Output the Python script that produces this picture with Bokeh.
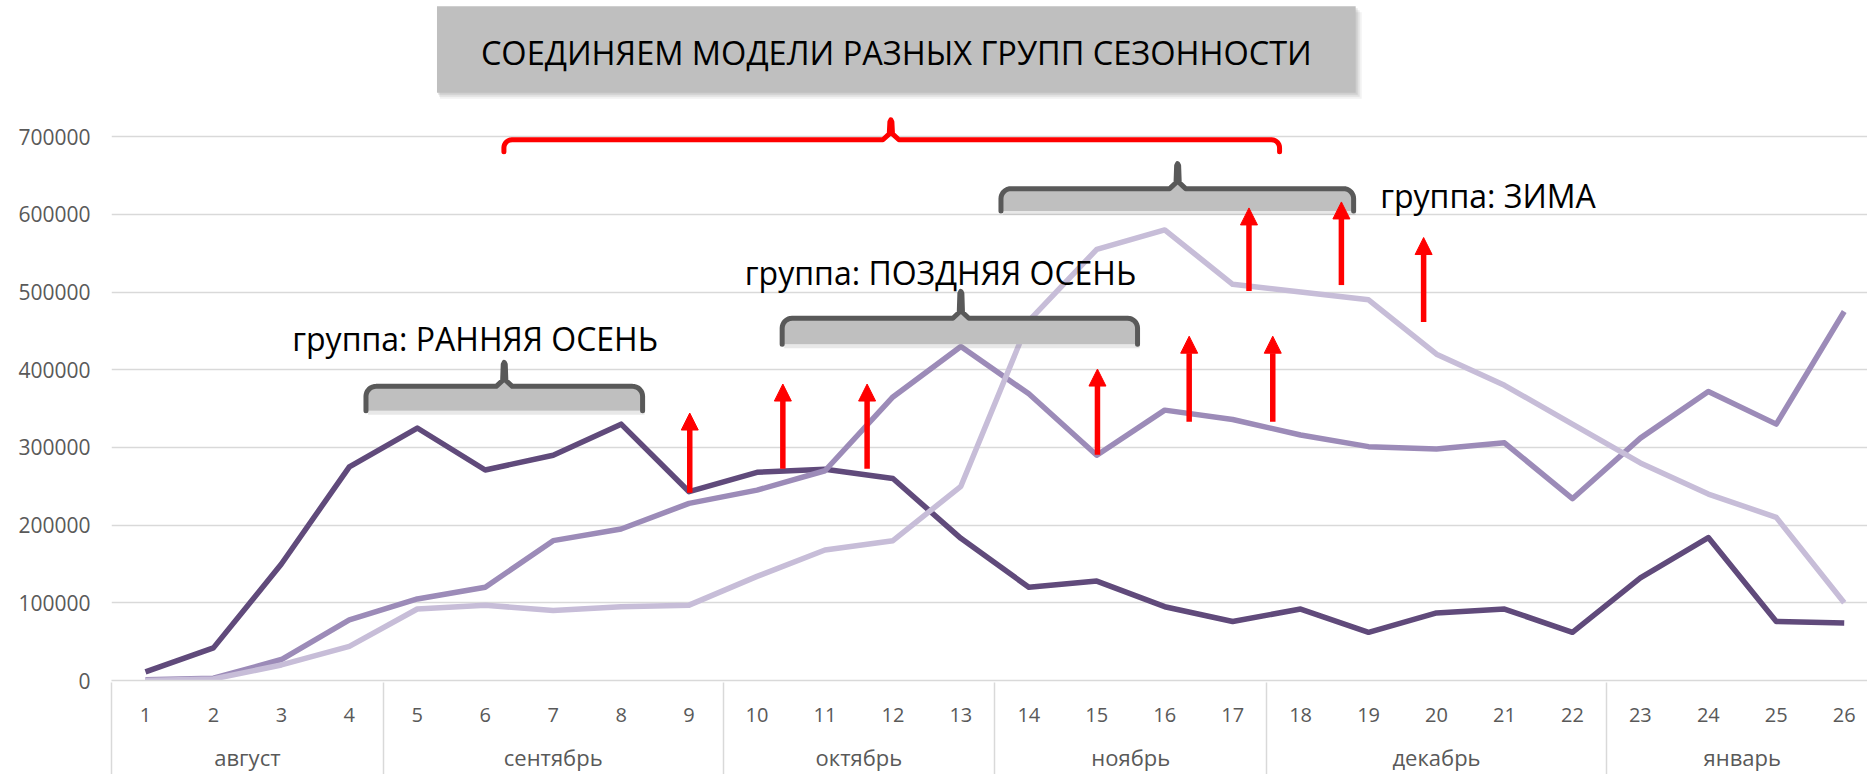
import numpy as np
from bokeh.plotting import figure
from bokeh.models import (Range1d, FixedTicker, BasicTickFormatter, LinearAxis,
                          ColumnDataSource, Arrow, NormalHead)
from bokeh.core.properties import value
from bokeh.embed import file_html
from bokeh.resources import INLINE

# ---------------- data ----------------
months = ["август", "сентябрь", "октябрь", "ноябрь", "декабрь", "январь"]
weeks_per_month = [4, 5, 4, 4, 5, 4]
weeks = ["1", "2", "3", "4", "5", "6", "7", "8", "9", "10", "11", "12", "13",
         "14", "15", "16", "17", "18", "19", "20", "21", "22", "23", "24", "25", "26"]

series_early = [11000, 42000, 150000, 275000, 325000, 271000, 290000, 330000, 243000,
                268000, 272000, 260000, 183000, 120000, 128000, 95000, 76000, 92000,
                62000, 87000, 92000, 62000, 132000, 184000, 76000, 74000]
series_late = [1000, 3000, 27000, 78000, 105000, 120000, 180000, 195000, 228000,
               245000, 270000, 365000, 430000, 369000, 290000, 348000, 336000, 316000,
               301000, 298000, 306000, 234000, 312000, 372000, 330000, 475000]
series_winter = [0, 2000, 20000, 44000, 92000, 97000, 90000, 95000, 97000,
                 134000, 168000, 180000, 250000, 463000, 555000, 580000, 510000, 500000,
                 490000, 420000, 380000, 330000, 280000, 240000, 210000, 100000]

y_ticks = [0, 100000, 200000, 300000, 400000, 500000, 600000, 700000]

title_text = "СОЕДИНЯЕМ МОДЕЛИ РАЗНЫХ ГРУПП СЕЗОННОСТИ"
group_texts = ["группа: РАННЯЯ ОСЕНЬ", "группа: ПОЗДНЯЯ ОСЕНЬ", "группа: ЗИМА"]

# annotation anchors (week position, value)
group_text_x = [3.16, 9.82, 19.17]
group_text_y = [440600, 525300, 624100]

# gray brackets: left, right, centre, line level, bottom level, peak level
br_x0 = [4.245, 10.37, 13.59]
br_x1 = [8.316, 15.60, 18.78]
br_xc = [6.28, 13.0, 16.19]
br_yl = [378600, 466300, 633100]
br_yb = [347300, 432900, 604300]
br_yp = [409400, 500900, 665200]
# red bracket
red_br = (6.275, 17.69, 11.97, 696000, 680600, 721700)

arrow_x = [9.01, 10.38, 11.62, 15.01, 16.36, 17.59, 17.24, 18.60, 19.81]
arrow_y0 = [241600, 272500, 272500, 290500, 333200, 333200, 501400, 509000, 461600]
arrow_y1 = [344300, 381600, 381600, 400900, 443200, 443200, 608300, 616000, 570200]

title_box = (5.29, 18.81, 756500, 868000)
title_pos = (12.05, 808000)

# ---------------- layout ----------------
W, H = 1867, 774
ML, MB = 111, 92
SPACING = 67.95                 # px per week
FRAME_W = W - ML
FRAME_H = H - MB
Y_MAX = 875300
UX = SPACING
VY = Y_MAX / FRAME_H            # value per px

# week positions, month boundaries and centres (derived from the lists above)
x_pos = [i + 1 for i in range(len(weeks))]
bounds = [0.5]
for n in weeks_per_month:
    bounds.append(bounds[-1] + n)
month_pos = [(a + b) / 2 for a, b in zip(bounds[:-1], bounds[1:])]

p = figure(width=W, height=H, x_range=Range1d(0.5, 0.5 + FRAME_W / SPACING),
           y_range=Range1d(0, Y_MAX), x_axis_type=None,
           output_backend="svg", toolbar_location=None,
           min_border_left=ML, min_border_right=0, min_border_top=0,
           min_border_bottom=MB)
p.outline_line_color = None
p.background_fill_color = "white"
p.border_fill_color = "white"

# title box with shadow
tb0, tb1, tbb, tbt = title_box
for j, a in enumerate([0.10, 0.14, 0.18]):
    off = 6 - 2 * j
    p.quad(left=[tb0 + off / UX * 0.5], right=[tb1 + off / UX],
           bottom=[tbb - off * VY], top=[tbt - off * VY], fill_color="#808080",
           fill_alpha=a, line_color=None)
p.quad(left=[tb0], right=[tb1], bottom=[tbb], top=[tbt],
       fill_color="#bfbfbf", line_color=None)
p.text(x=[title_pos[0]], y=[title_pos[1]], text=[title_text],
       text_align="center", text_baseline="middle",
       text_font=value("Open Sans"),
       text_font_size="32.5px", text_color="#000000")

# series
src = ColumnDataSource(dict(x=x_pos, a=series_early, b=series_late, c=series_winter))
p.line(x="x", y="a", source=src, line_color="#604a7b", line_width=5.5, line_join="round")
p.line(x="x", y="b", source=src, line_color="#9c8bb8", line_width=5.5, line_join="round")
p.line(x="x", y="c", source=src, line_color="#c7bdd8", line_width=5.5, line_join="round")


def bracket(x0, x1, xc, yl, yb, yp, r=10):
    rx, ry = r / UX, r * VY
    xs, ys = [x0], [yb]
    for t in np.linspace(np.pi, np.pi / 2, 9):
        xs.append(x0 + rx + rx * np.cos(t))
        ys.append(yl - ry + ry * np.sin(t))
    s, h = 8 / UX, 6 * VY
    xs += [xc - s, xc - 1.6 / UX, xc - 1.0 / UX, xc, xc + 1.0 / UX, xc + 1.6 / UX, xc + s]
    ys += [yl, yl + h, yp - 2 * VY, yp, yp - 2 * VY, yl + h, yl]
    for t in np.linspace(np.pi / 2, 0, 9):
        xs.append(x1 - rx + rx * np.cos(t))
        ys.append(yl - ry + ry * np.sin(t))
    xs.append(x1)
    ys.append(yb)
    return xs, ys


for i in range(3):
    bx, by = bracket(br_x0[i], br_x1[i], br_xc[i], br_yl[i], br_yb[i], br_yp[i])
    p.quad(left=[bx[0] + 2 / UX], right=[bx[-1] + 2 / UX], bottom=[br_yb[i] - 4 * VY],
           top=[br_yb[i]], fill_color="#808080", fill_alpha=0.18, line_color=None)
    p.patch(x=bx, y=by, fill_color="#bfbfbf", line_color=None)
    p.line(x=bx, y=by, line_color="#595959", line_width=5, line_join="round",
           line_cap="round")

rbx, rby = bracket(*red_br, r=8)
p.line(x=rbx, y=rby, line_color="#ff0000", line_width=5, line_join="round",
       line_cap="round")

# group texts
p.text(x=group_text_x, y=group_text_y, text=group_texts,
       text_align="left", text_baseline="alphabetic",
       text_font=value("Open Sans"), text_font_size="32px", text_color="#000000")

# arrows
asrc = ColumnDataSource(dict(x=arrow_x, y0=arrow_y0, y1=arrow_y1))
p.add_layout(Arrow(end=NormalHead(size=17, fill_color="#ff0000", line_color="#ff0000",
                                  line_width=1),
                   x_start="x", y_start="y0", x_end="x", y_end="y1", source=asrc,
                   line_color="#ff0000", line_width=5.5))


def plain_axis(axis):
    axis.major_tick_line_color = None
    axis.minor_tick_line_color = None
    axis.major_tick_out = 0
    axis.major_tick_in = 0
    axis.minor_tick_out = 0
    axis.minor_tick_in = 0


# x axis: weeks
xa = LinearAxis(ticker=FixedTicker(ticks=x_pos, minor_ticks=[]),
                major_label_overrides={x: w for x, w in zip(x_pos, weeks)})
plain_axis(xa)
xa.axis_line_color = "#d9d9d9"
xa.axis_line_width = 1.5
xa.major_label_text_font = "Open Sans"
xa.major_label_text_font_size = "20px"
xa.major_label_text_line_height = 1.0
xa.major_label_text_color = "#595959"
xa.major_label_standoff = 27
p.add_layout(xa, "below")

# month axis
ma = LinearAxis(ticker=FixedTicker(ticks=month_pos, minor_ticks=[]),
                major_label_overrides={x: m for x, m in zip(month_pos, months)})
plain_axis(ma)
ma.axis_line_color = None
ma.major_label_text_font = "Open Sans"
ma.major_label_text_font_size = "22px"
ma.major_label_text_line_height = 1.0
ma.major_label_text_color = "#595959"
ma.major_label_standoff = 17
p.add_layout(ma, "below")

# month separators: inward minor ticks of an unlabeled bottom axis
sa = LinearAxis(ticker=FixedTicker(ticks=[], minor_ticks=bounds))
plain_axis(sa)
sa.axis_line_color = None
sa.minor_tick_line_color = "#d9d9d9"
sa.minor_tick_line_width = 1.5
sa.minor_tick_in = MB
sa.major_label_standoff = 0
p.add_layout(sa, "below")

ya = p.yaxis[0]
ya.ticker = FixedTicker(ticks=y_ticks)
ya.formatter = BasicTickFormatter(use_scientific=False)
ya.axis_line_color = None
plain_axis(ya)
ya.major_label_text_font = "Open Sans"
ya.major_label_text_font_size = "21px"
ya.major_label_text_color = "#595959"
ya.major_label_standoff = 21

p.ygrid.grid_line_color = "#d9d9d9"
p.ygrid.grid_line_width = 1.5

open("out.html", "w").write(file_html(p, INLINE))
